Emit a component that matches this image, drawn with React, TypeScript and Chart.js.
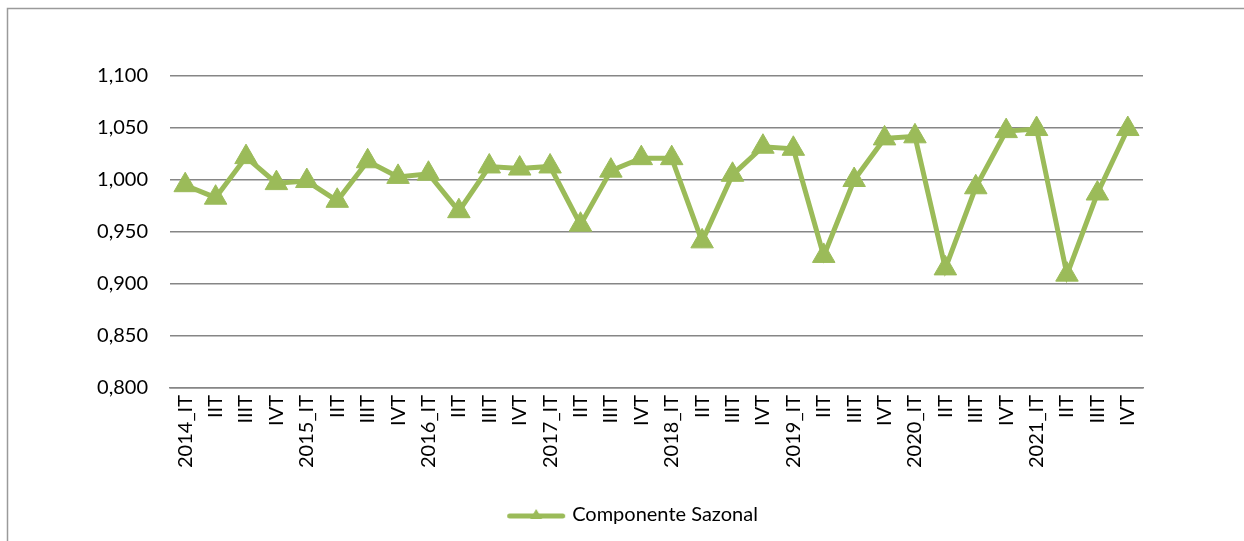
import React, { useEffect, useRef } from "react";
import { Chart, registerables } from "chart.js";

Chart.register(...registerables);

const categories: string[] = [
  "2014_IT", "IIT", "IIIT", "IVT",
  "2015_IT", "IIT", "IIIT", "IVT",
  "2016_IT", "IIT", "IIIT", "IVT",
  "2017_IT", "IIT", "IIIT", "IVT",
  "2018_IT", "IIT", "IIIT", "IVT",
  "2019_IT", "IIT", "IIIT", "IVT",
  "2020_IT", "IIT", "IIIT", "IVT",
  "2021_IT", "IIT", "IIIT", "IVT",
];

const componenteSazonal: number[] = [
  0.995, 0.983, 1.022, 0.997,
  0.999, 0.98, 1.018, 1.003,
  1.006, 0.97, 1.013, 1.011,
  1.013, 0.957, 1.009, 1.021,
  1.021, 0.941, 1.005, 1.032,
  1.03, 0.927, 1.0, 1.04,
  1.042, 0.915, 0.993, 1.047,
  1.049, 0.909, 0.987, 1.049,
];

const seriesName = "Componente Sazonal";
const yMin = 0.8;
const yMax = 1.1;
const yStep = 0.05;

const GREEN = "#9BBB59";
const FONT = "Lato";
const FONT_SIZE = 20;

function makeLegendSymbol(): HTMLCanvasElement {
  const c = document.createElement("canvas");
  c.width = 60;
  c.height = 16;
  const ctx = c.getContext("2d")!;
  ctx.strokeStyle = GREEN;
  ctx.lineWidth = 5;
  ctx.lineCap = "round";
  ctx.beginPath();
  ctx.moveTo(3.5, 9);
  ctx.lineTo(56.5, 9);
  ctx.stroke();
  ctx.fillStyle = GREEN;
  ctx.beginPath();
  ctx.moveTo(30, 2);
  ctx.lineTo(36, 12);
  ctx.lineTo(24, 12);
  ctx.closePath();
  ctx.fill();
  return c;
}

const borderPlugin = {
  id: "outerBorder",
  beforeDraw(chart: any) {
    const ctx = chart.ctx;
    ctx.save();
    ctx.strokeStyle = "#9a9a9a";
    ctx.lineWidth = 1.5;
    ctx.beginPath();
    ctx.moveTo(7.5, 541);
    ctx.lineTo(7.5, 8.5);
    ctx.lineTo(1244, 8.5);
    ctx.stroke();
    ctx.restore();
  },
};

export default function App() {
  const ref = useRef<HTMLCanvasElement | null>(null);

  useEffect(() => {
    if (!ref.current) return;
    const symbol = makeLegendSymbol();
    const chart = new Chart(ref.current, {
      type: "line",
      data: {
        labels: categories,
        datasets: [
          {
            label: seriesName,
            data: componenteSazonal,
            borderColor: GREEN,
            backgroundColor: GREEN,
            borderWidth: 5,
            pointStyle: "triangle",
            pointRadius: 13,
            pointBorderWidth: 1,
            pointBackgroundColor: GREEN,
            pointBorderColor: GREEN,
            tension: 0,
            fill: false,
          },
        ],
      },
      options: {
        responsive: false,
        animation: false,
        maintainAspectRatio: false,
        layout: { padding: { top: 76, left: 24, right: 0, bottom: 6 } },
        plugins: {
          title: { display: false },
          tooltip: { enabled: false },
          legend: {
            display: true,
            position: "bottom",
            labels: {
              usePointStyle: true,
              pointStyleWidth: 52,
              color: "#000",
              font: { family: FONT, size: FONT_SIZE },
              padding: 10,
              generateLabels: () => [
                {
                  text: seriesName,
                  pointStyle: symbol as any,
                  fillStyle: GREEN,
                  strokeStyle: GREEN,
                  lineWidth: 0,
                  hidden: false,
                  datasetIndex: 0,
                },
              ],
            },
          },
        },
        scales: {
          x: {
            type: "category",
            offset: true,
            grid: { display: false, drawTicks: false },
            border: { display: true, color: "#868686", width: 1.5 },
            ticks: {
              autoSkip: false,
              maxRotation: 90,
              minRotation: 90,
              padding: 7,
              color: "#000",
              font: { family: FONT, size: FONT_SIZE },
            },
            afterFit: (s: any) => {
              s.height = 107;
            },
          },
          y: {
            type: "linear",
            position: "left",
            min: yMin,
            max: yMax,
            grid: { color: "#868686", lineWidth: 1.5, drawTicks: false },
            border: { display: false },
            ticks: {
              stepSize: yStep,
              padding: 22,
              color: "#000",
              font: { family: FONT, size: FONT_SIZE },
              callback: (v: any) => Number(v).toFixed(3).replace(".", ","),
            },
            afterFit: (s: any) => {
              s.width = 146;
            },
          },
          y2: {
            type: "linear",
            position: "right",
            display: true,
            grid: { display: false, drawTicks: false },
            border: { display: false },
            ticks: { display: false },
            afterFit: (s: any) => {
              s.width = 101;
            },
          },
        },
      },
      plugins: [borderPlugin],
    });
    return () => chart.destroy();
  }, []);

  return (
    <div style={{ position: "fixed", left: 0, top: 0, width: 1244, height: 541, background: "#fff" }}>
      <canvas ref={ref} width={1244} height={541} style={{ width: 1244, height: 541, display: "block" }} />
    </div>
  );
}
